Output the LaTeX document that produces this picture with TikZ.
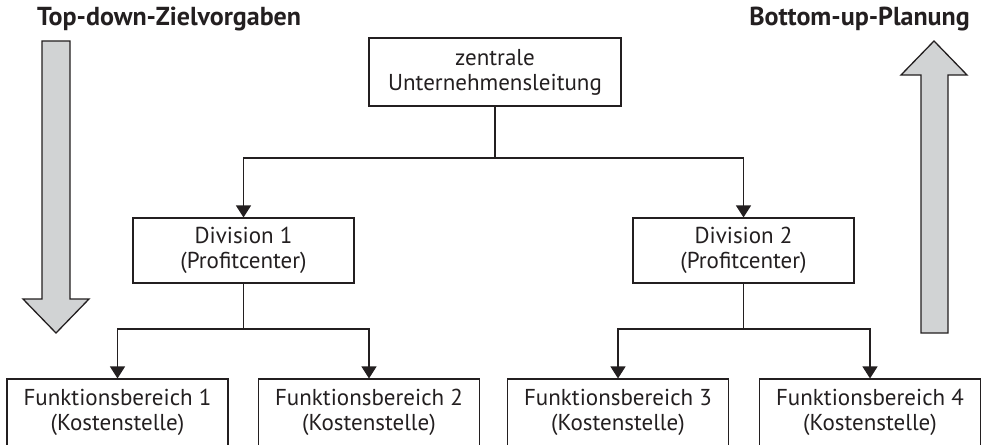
\documentclass[tikz,border=0pt]{standalone}
\usepackage{fontspec}
\setmainfont{PT Sans}
\usetikzlibrary{arrows.meta}
\definecolor{ink}{HTML}{231F20}
\definecolor{arrowgray}{HTML}{D1D3D4}
\begin{document}
\begin{tikzpicture}[x=1pt,y=-1pt,
  box/.style={draw=ink,line width=1.1pt,text=ink,align=center,inner sep=0pt,
    font=\fontsize{23}{25}\selectfont},
  conn/.style={draw=ink,line width=1.1pt},
  arr/.style={conn,-{Triangle[length=12pt,width=15pt]}},
  bigarrow/.style={draw=ink,line width=1.3pt,fill=arrowgray,line join=miter},
  title/.style={text=ink,inner sep=0pt,font=\fontsize{26}{28}\selectfont\bfseries}]
\clip (0,0) rectangle (981,444);
\fill[white] (0,0) rectangle (981,444);
% titles
\node[title,anchor=base west] (tl) at (37,26) {Top-down-Zielvorgaben};
\node[title,anchor=base east] (tr) at (970,26) {Bottom-up-Planung};
% big arrows
\draw[bigarrow] (42,41) -- (70,41) -- (70,299) -- (89,299) -- (56,333) -- (23,299) -- (42,299) -- cycle;
\draw[bigarrow] (934,41) -- (967,75) -- (948,75) -- (948,333) -- (921,333) -- (921,75) -- (901,75) -- cycle;
% boxes
\node[box,minimum width=252pt,minimum height=68pt] (top) at (495,72) {zentrale\\Unternehmensleitung};
\node[box,minimum width=221pt,minimum height=65pt] (div1) at (243.5,250.5) {Division 1\\(Profitcenter)};
\node[box,minimum width=221pt,minimum height=65pt] (div2) at (743.5,250.5) {Division 2\\(Profitcenter)};
\node[box,minimum width=221pt,minimum height=67pt] (fb1) at (117.5,412.5) {Funktionsbereich 1\\(Kostenstelle)};
\node[box,minimum width=221pt,minimum height=67pt] (fb2) at (369,412.5) {Funktionsbereich 2\\(Kostenstelle)};
\node[box,minimum width=221pt,minimum height=67pt] (fb3) at (618,412.5) {Funktionsbereich 3\\(Kostenstelle)};
\node[box,minimum width=221pt,minimum height=67pt] (fb4) at (870,412.5) {Funktionsbereich 4\\(Kostenstelle)};
% connectors
\coordinate (j0) at (495,158);
\coordinate (j1) at (243.5,329);
\coordinate (j2) at (743.5,329);
\draw[conn] (top.south) -- (j0);
\draw[arr] (j0) -| (div1.north);
\draw[arr] (j0) -| (div2.north);
\draw[conn] (div1.south) -- (j1);
\draw[arr] (j1) -| (fb1.north);
\draw[arr] (j1) -| (fb2.north);
\draw[conn] (div2.south) -- (j2);
\draw[arr] (j2) -| (fb3.north);
\draw[arr] (j2) -| (fb4.north);
\end{tikzpicture}
\end{document}
